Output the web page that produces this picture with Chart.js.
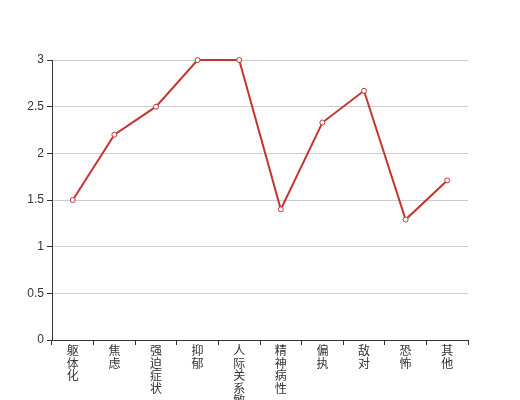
<!DOCTYPE html>
<html>
<head>
<meta charset="utf-8">
<script src="https://cdn.jsdelivr.net/npm/chart.js@4/dist/chart.umd.min.js"></script>
<style>
  html, body { margin: 0; padding: 0; background: #fff; }
  #wrap { width: 520px; height: 400px; }
</style>
</head>
<body>
<div id="wrap"><canvas id="c" width="520" height="400"></canvas></div>
<script>
// Data
const categories = ["躯体化", "焦虑", "强迫症状", "抑郁", "人际关系敏感", "精神病性", "偏执", "敌对", "恐怖", "其他"];
const scores = [1.5, 2.2, 2.5, 3, 3, 1.4, 2.33, 2.67, 1.29, 1.71];
const yTicks = [0, 0.5, 1, 1.5, 2, 2.5, 3];

const FONT = "'Liberation Sans', 'Noto Sans CJK SC', sans-serif";
const RED = "#c23531";

const ctx = document.getElementById("c").getContext("2d");
new Chart(ctx, {
  type: "line",
  data: {
    labels: categories.map((s) => s.split("")),
    datasets: [{
      data: scores,
      borderColor: RED,
      borderWidth: 2,
      backgroundColor: "#fff",
      pointBackgroundColor: "#fff",
      pointBorderColor: RED,
      pointBorderWidth: 1,
      pointRadius: 2.5,
      tension: 0,
      fill: false,
      clip: false
    }]
  },
  options: {
    responsive: false,
    animation: false,
    layout: { padding: { top: 60, right: 52, left: 0, bottom: 0 } },
    plugins: { legend: { display: false }, tooltip: { enabled: false } },
    scales: {
      x: {
        type: "category",
        offset: true,
        afterFit: (s) => { s.height = 60; },
        border: { color: "#333", width: 1 },
        grid: { offset: true, drawOnChartArea: false, tickLength: 5, tickColor: "#333", tickWidth: 1 },
        ticks: {
          autoSkip: false,
          maxRotation: 0,
          minRotation: 0,
          padding: 1,
          color: "#333",
          font: { family: FONT, size: 12, lineHeight: 1.03 }
        }
      },
      y: {
        min: 0,
        max: 3,
        afterFit: (s) => { s.width = 52; },
        afterBuildTicks: (s) => { s.ticks = yTicks.map((v) => ({ value: v })); },
        border: { color: "#333", width: 1 },
        grid: { color: "#ccc", tickLength: 5, tickColor: "#333", lineWidth: 1 },
        ticks: {
          padding: 3,
          color: "#333",
          font: { family: FONT, size: 12 },
          callback: (v) => String(v)
        }
      }
    }
  }
});
</script>
</body>
</html>
